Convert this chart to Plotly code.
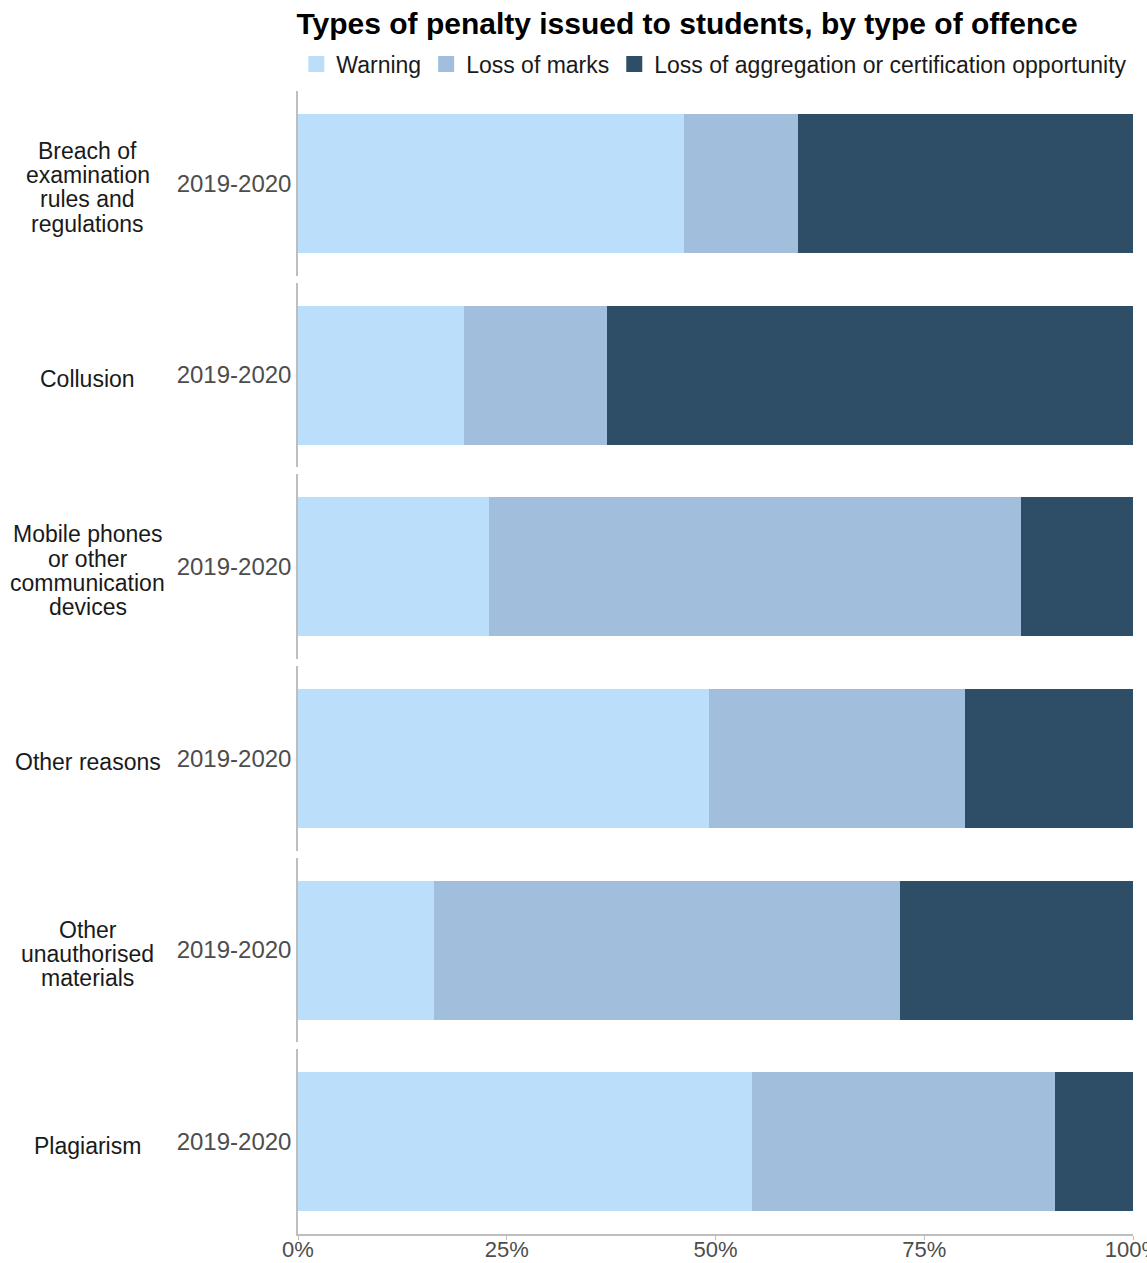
import plotly.graph_objs as go
from plotly.subplots import make_subplots

offences = [
    "Breach of<br>examination<br>rules and<br>regulations",
    "Collusion",
    "Mobile phones<br>or other<br>communication<br>devices",
    "Other reasons",
    "Other<br>unauthorised<br>materials",
    "Plagiarism",
]
year = "2019-2020"
penalties = ["Warning", "Loss of marks", "Loss of aggregation or certification opportunity"]
warning = [46.2, 19.9, 22.9, 49.2, 16.3, 54.4]
loss_of_marks = [13.7, 17.1, 63.7, 30.7, 55.8, 36.3]
loss_of_aggregation = [40.1, 63.0, 13.4, 20.1, 27.9, 9.3]
colours = ["#BBDEFB", "#A1BFDC", "#2E4E67"]
tick_vals = [0, 25, 50, 75, 100]
tick_text = ["0%", "25%", "50%", "75%", "100%"]

FONT = "Liberation Sans"
LINE_H = 24.3

fig = make_subplots(rows=len(offences), cols=1, shared_xaxes=True, vertical_spacing=7 / 1143)

series = [warning, loss_of_marks, loss_of_aggregation]
for i, offence in enumerate(offences, start=1):
    for name, values, colour in zip(penalties, series, colours):
        fig.add_bar(
            y=[year], x=[values[i - 1]], orientation="h", name=name,
            marker=dict(color=colour, line=dict(width=0)), width=0.9,
            showlegend=False, legendgroup=name, row=i, col=1,
        )
    fig.update_yaxes(
        range=[-0.6, 0.6], showline=True, linecolor="#BEBEBE", linewidth=1.5,
        ticks="", tickfont=dict(family=FONT, size=24, color="#4D4D4D"),
        showgrid=False, zeroline=False, automargin=False, row=i, col=1,
    )
    # facet label, one annotation per line to keep the tight line spacing
    yref = "y domain" if i == 1 else f"y{i} domain"
    lines = offence.split("<br>")
    n = len(lines)
    for k, line in enumerate(lines):
        fig.add_annotation(
            text=line, xref="paper", yref=yref, x=-0.2515, y=0.5,
            yshift=-4 - (k - (n - 1) / 2) * LINE_H,
            xanchor="center", yanchor="middle", showarrow=False,
            font=dict(family=FONT, size=23, color="#1A1A1A"),
        )

# legend entries with bigger square keys
for name, colour in zip(penalties, colours):
    fig.add_scatter(
        x=[None], y=[None], mode="markers", name=name, legendgroup=name,
        marker=dict(symbol="square", size=20, color=colour), row=1, col=1,
    )

fig.update_xaxes(range=[0, 100], showgrid=False, zeroline=False, showticklabels=False, automargin=False)
fig.update_xaxes(
    showline=True, linecolor="#BEBEBE", linewidth=1.5, ticks="outside", ticklen=4,
    tickcolor="#BEBEBE", tickvals=tick_vals, ticktext=tick_text, showticklabels=True,
    ticklabeloverflow="allow", ticklabelstandoff=-9,
    tickfont=dict(family=FONT, size=22, color="#4D4D4D"), row=len(offences), col=1,
)

fig.update_layout(
    width=1147, height=1263, barmode="stack", bargap=0,
    plot_bgcolor="white", paper_bgcolor="white",
    margin=dict(l=298, r=14, t=91, b=29),
    title=dict(
        text="<b>Types of penalty issued to students, by type of offence</b>",
        x=0.599, xanchor="center", y=0.981, yanchor="middle",
        font=dict(family=FONT, size=30, color="black"),
    ),
    legend=dict(
        orientation="h", x=-0.002, xanchor="left", y=1.0236, yanchor="middle",
        font=dict(family=FONT, size=23, color="#1A1A1A"), traceorder="normal",
    ),
    font=dict(family=FONT),
)

fig.write_html(
    "out.html",
    config={"displayModeBar": False},
    post_script="document.body.style.margin='0';",
)
